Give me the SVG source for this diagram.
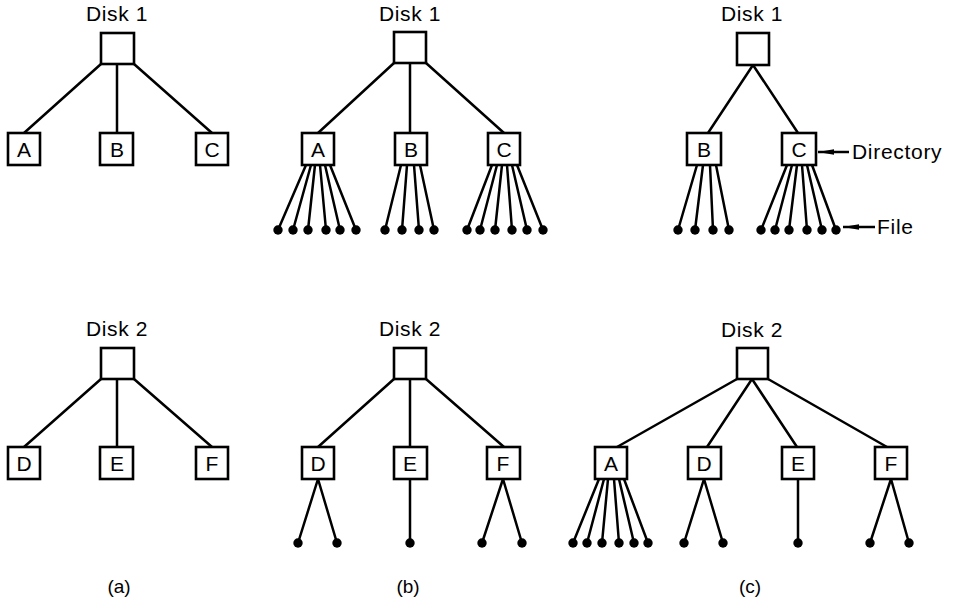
<svg xmlns="http://www.w3.org/2000/svg" width="955" height="601" viewBox="0 0 955 601">
<defs>
<style>
.box{fill:#fff;stroke:#000;stroke-width:2.6}
.ln{stroke:#000;stroke-width:2.5;fill:none}
.dot{fill:#000}
.t{font-family:"Liberation Sans",Arial,sans-serif;fill:#000}
.disk{font-size:21px;letter-spacing:0.6px;text-anchor:middle}
.lbl{font-size:21px;text-anchor:middle}
.cap{font-size:19px;text-anchor:middle}
.note{font-size:21px;letter-spacing:0.7px}
</style>
<marker id="ah" markerWidth="16" markerHeight="8" refX="16" refY="4" orient="auto" markerUnits="userSpaceOnUse">
<path d="M0,1.3 L16,4 L0,6.7 Z" fill="#000"/>
</marker>
</defs>
<rect width="955" height="601" fill="#fff"/>

<g id="connectors">
<!-- (a) top -->
<path class="ln" d="M101,64 L24,133 M117,64 L117,133 M134,64 L212,133"/>
<!-- (a) bottom -->
<path class="ln" d="M101,379 L24,447 M117,379 L117,447 M134,379 L212,447"/>
<!-- (b) top -->
<path class="ln" d="M394,63 L318,133 M410,63 L410,133 M426,63 L504,133"/>
<path class="ln" d="M306,165 L278,230 M311,165 L293,230 M315,165 L308,230 M320,165 L326,230 M325,165 L340,230 M330,165 L356,230"/>
<path class="ln" d="M401,165 L385,230 M407,165 L402,230 M414,165 L419,230 M420,165 L434,230"/>
<path class="ln" d="M492,165 L467,230 M497,165 L480,230 M502,165 L495,230 M507,165 L512,230 M512,165 L527,230 M517,165 L543,230"/>
<!-- (b) bottom -->
<path class="ln" d="M394,379 L318,447 M410,379 L410,447 M426,379 L504,447"/>
<path class="ln" d="M318,479 L298,543 M318,479 L337,543 M410,479 L410,543 M503,479 L482,543 M503,479 L522,543"/>
<!-- (c) top -->
<path class="ln" d="M753,65 L708,133 M753,65 L798,133"/>
<path class="ln" d="M697,165 L678,230 M703,165 L695,230 M710,165 L713,230 M716,165 L729,230"/>
<path class="ln" d="M787,165 L761,230 M792,165 L775,230 M797,165 L789,230 M802,165 L807,230 M807,165 L822,230 M812,165 L836,230"/>
<path class="ln" d="M849,152 L818,152" stroke-width="2" marker-end="url(#ah)"/>
<path class="ln" d="M875,227 L843,227" stroke-width="2" marker-end="url(#ah)"/>
<!-- (c) bottom -->
<path class="ln" d="M737,379 L617,447 M752,379 L707,447 M752,379 L797,447 M768,379 L887,447"/>
<path class="ln" d="M599,479 L573,543 M604,479 L587,543 M608,479 L602,543 M614,479 L619,543 M619,479 L634,543 M624,479 L648,543"/>
<path class="ln" d="M704,479 L684,543 M704,479 L723,543 M798,479 L798,543 M891,479 L870,543 M891,479 L909,543"/>
</g>

<g id="dots">
<g class="dot">
<circle cx="278" cy="230" r="4.7"/><circle cx="293" cy="230" r="4.7"/><circle cx="308" cy="230" r="4.7"/><circle cx="326" cy="230" r="4.7"/><circle cx="340" cy="230" r="4.7"/><circle cx="356" cy="230" r="4.7"/>
<circle cx="385" cy="230" r="4.7"/><circle cx="402" cy="230" r="4.7"/><circle cx="419" cy="230" r="4.7"/><circle cx="434" cy="230" r="4.7"/>
<circle cx="467" cy="230" r="4.7"/><circle cx="480" cy="230" r="4.7"/><circle cx="495" cy="230" r="4.7"/><circle cx="512" cy="230" r="4.7"/><circle cx="527" cy="230" r="4.7"/><circle cx="543" cy="230" r="4.7"/>
<circle cx="298" cy="543" r="4.7"/><circle cx="337" cy="543" r="4.7"/><circle cx="410" cy="543" r="4.7"/><circle cx="482" cy="543" r="4.7"/><circle cx="522" cy="543" r="4.7"/>
<circle cx="678" cy="230" r="4.7"/><circle cx="695" cy="230" r="4.7"/><circle cx="713" cy="230" r="4.7"/><circle cx="729" cy="230" r="4.7"/>
<circle cx="761" cy="230" r="4.7"/><circle cx="775" cy="230" r="4.7"/><circle cx="789" cy="230" r="4.7"/><circle cx="807" cy="230" r="4.7"/><circle cx="822" cy="230" r="4.7"/><circle cx="836" cy="230" r="4.7"/>
<circle cx="573" cy="543" r="4.7"/><circle cx="587" cy="543" r="4.7"/><circle cx="602" cy="543" r="4.7"/><circle cx="619" cy="543" r="4.7"/><circle cx="634" cy="543" r="4.7"/><circle cx="648" cy="543" r="4.7"/>
<circle cx="684" cy="543" r="4.7"/><circle cx="723" cy="543" r="4.7"/><circle cx="798" cy="543" r="4.7"/><circle cx="870" cy="543" r="4.7"/><circle cx="909" cy="543" r="4.7"/>
</g>
</g>

<!-- (a) -->
<g id="a-disk1"><text class="t disk" x="117" y="21">Disk 1</text><rect class="box" x="101" y="33" width="33" height="31"/></g>
<g id="a-A"><rect class="box" x="8" y="133" width="32" height="32"/><text class="t lbl" x="24" y="157">A</text></g>
<g id="a-B"><rect class="box" x="100" y="133" width="33" height="32"/><text class="t lbl" x="117" y="157">B</text></g>
<g id="a-C"><rect class="box" x="196" y="133" width="32" height="32"/><text class="t lbl" x="212" y="157">C</text></g>
<g id="a-disk2"><text class="t disk" x="117" y="336">Disk 2</text><rect class="box" x="101" y="348" width="33" height="31"/></g>
<g id="a-D"><rect class="box" x="8" y="447" width="32" height="32"/><text class="t lbl" x="24" y="471">D</text></g>
<g id="a-E"><rect class="box" x="100" y="447" width="33" height="32"/><text class="t lbl" x="117" y="471">E</text></g>
<g id="a-F"><rect class="box" x="196" y="447" width="32" height="32"/><text class="t lbl" x="212" y="471">F</text></g>

<!-- (b) -->
<g id="b-disk1"><text class="t disk" x="410" y="21">Disk 1</text><rect class="box" x="394" y="32" width="32" height="31"/></g>
<g id="b-A"><rect class="box" x="302" y="133" width="32" height="32"/><text class="t lbl" x="318" y="157">A</text></g>
<g id="b-B"><rect class="box" x="395" y="133" width="32" height="32"/><text class="t lbl" x="411" y="157">B</text></g>
<g id="b-C"><rect class="box" x="488" y="133" width="32" height="32"/><text class="t lbl" x="504" y="157">C</text></g>
<g id="b-disk2"><text class="t disk" x="410" y="336">Disk 2</text><rect class="box" x="394" y="348" width="32" height="31"/></g>
<g id="b-D"><rect class="box" x="302" y="447" width="32" height="32"/><text class="t lbl" x="318" y="471">D</text></g>
<g id="b-E"><rect class="box" x="394" y="447" width="33" height="32"/><text class="t lbl" x="410" y="471">E</text></g>
<g id="b-F"><rect class="box" x="487" y="447" width="33" height="32"/><text class="t lbl" x="503" y="471">F</text></g>

<!-- (c) -->
<g id="c-disk1"><text class="t disk" x="752" y="21">Disk 1</text><rect class="box" x="737" y="33" width="32" height="32"/></g>
<g id="c-B"><rect class="box" x="687" y="133" width="34" height="32"/><text class="t lbl" x="704" y="157">B</text></g>
<g id="c-C"><rect class="box" x="782" y="133" width="34" height="32"/><text class="t lbl" x="799" y="157">C</text></g>
<g id="c-directory"><text class="t note" x="852" y="159">Directory</text></g>
<g id="c-file"><text class="t note" x="877" y="234">File</text></g>
<g id="c-disk2"><text class="t disk" x="752" y="337">Disk 2</text><rect class="box" x="737" y="348" width="31" height="31"/></g>
<g id="c-A"><rect class="box" x="595" y="447" width="32" height="32"/><text class="t lbl" x="611" y="471">A</text></g>
<g id="c-D"><rect class="box" x="688" y="447" width="33" height="32"/><text class="t lbl" x="704" y="471">D</text></g>
<g id="c-E"><rect class="box" x="782" y="447" width="32" height="32"/><text class="t lbl" x="798" y="471">E</text></g>
<g id="c-F"><rect class="box" x="875" y="447" width="32" height="32"/><text class="t lbl" x="891" y="471">F</text></g>

<g id="captions">
<text class="t cap" x="119" y="593">(a)</text>
<text class="t cap" x="408" y="593">(b)</text>
<text class="t cap" x="750" y="593">(c)</text>
</g>
</svg>
